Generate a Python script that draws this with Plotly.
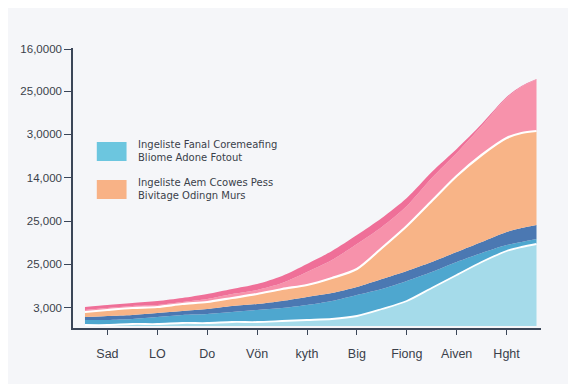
import plotly.graph_objects as go

# Category tick labels (x axis)
categories = ["Sad", "LO", "Do", "Vön", "kyth", "Big", "Fiong", "Aiven", "Hght"]
cat_pos = list(range(len(categories)))

# sample positions along the category axis (fractional category index)
x_pos = [-0.45, 0, 0.5, 1, 1.5, 2, 2.5, 3, 3.5, 4, 4.5, 5, 5.5, 6, 6.5, 7, 7.5, 8, 8.3, 8.6]

# layer values (stacked, bottom to top)
light_cyan = [60, 60, 120, 120, 180, 180, 240, 240, 300, 360, 420, 600, 1020, 1500, 2280, 3060, 3840, 4500, 4740, 4920]
mid_blue = [300, 300, 300, 420, 480, 540, 600, 720, 780, 900, 1080, 1260, 1200, 1200, 960, 780, 540, 360, 300, 300]
dark_blue = [180, 240, 240, 240, 240, 300, 360, 360, 420, 480, 480, 480, 600, 600, 600, 600, 660, 780, 840, 840]
orange = [300, 360, 420, 360, 420, 420, 480, 600, 720, 720, 900, 1080, 1860, 2700, 3660, 4560, 5220, 5640, 5700, 5640]
pink = [120, 120, 120, 120, 120, 180, 240, 240, 360, 780, 1080, 1500, 1260, 1200, 1380, 1380, 1740, 2400, 2780, 3090]
pink_band = [180, 180, 180, 240, 240, 300, 300, 360, 420, 480, 540, 540, 540, 480, 360, 240, 120, 60, 40, 30]

# y tick labels (bottom to top)
y_tickvals = [1100, 3700, 6300, 8900, 11500, 14100, 16600]
y_ticktext = ["3,000", "25,000", "25,000", "14,000", "3,0000", "25,0000", "16,0000"]

legend_labels = ["Ingeliste Fanal Coremeafing<br>Bliome Adone Fotout",
                 "Ingeliste Aem Ccowes Pess<br>Bivitage Odingn Murs"]

layers = [
    ("light_cyan", light_cyan, "#a5dbea", "white", 1.8),
    ("mid_blue", mid_blue, "#4ea7cf", "#4ea7cf", 0),
    ("dark_blue", dark_blue, "#4b78b2", "#4b78b2", 0),
    ("orange", orange, "#f8b487", "white", 2.2),
    ("pink", pink, "#f792ab", "#f792ab", 0),
    ("pink_band", pink_band, "#ef6f98", "#ef6f98", 0),
]

fig = go.Figure()
for name, vals, fill, lc, lw in layers:
    fig.add_trace(go.Scatter(
        x=x_pos, y=vals, name=name, mode="lines",
        stackgroup="one",
        fillcolor=fill,
        line=dict(color=lc, width=lw, shape="spline", smoothing=0.8),
        showlegend=False, hoverinfo="skip",
    ))

axis_color = "#3b4658"
bg = "#f5f6f9"

# custom legend (swatches + text)
W, H = 472.0, 280.0
def px_to_paper(px, py):
    return (px - 61) / W, (320 - py) / H

sw_colors = ["#6cc6df", "#f8b286"]
sw_tops = [134, 172]
shapes = []
annotations = []
for col, top, lab in zip(sw_colors, sw_tops, legend_labels):
    x0, y1 = px_to_paper(85, top)
    x1, y0 = px_to_paper(115, top + 19)
    shapes.append(dict(type="rect", xref="paper", yref="paper", x0=x0, x1=x1, y0=y0, y1=y1,
                       fillcolor=col, line=dict(width=0), layer="above"))
    tx, ty = px_to_paper(125, top + 8.5)
    annotations.append(dict(xref="paper", yref="paper", x=tx, y=ty, xanchor="left", yanchor="middle",
                            text=lab, showarrow=False, align="left",
                            font=dict(family="DejaVu Sans, Arial", size=10, color="#3a3f4a")))

fig.update_layout(
    width=576, height=384,
    margin=dict(l=61, r=43, t=40, b=64),
    paper_bgcolor=bg, plot_bgcolor=bg,
    shapes=shapes, annotations=annotations,
    font=dict(family="Liberation Sans, Arial", color="#3a3f4a"),
)
fig.update_xaxes(
    range=[-0.69, 8.69], tickvals=cat_pos, ticktext=categories,
    showgrid=False, zeroline=False,
    showline=True, linecolor=axis_color, linewidth=1.5,
    ticks="outside", ticklen=5, tickcolor=axis_color, tickwidth=1.2,
    ticklabelstandoff=8,
    tickfont=dict(size=12.5, color="#3a3f4a"),
)
fig.update_yaxes(
    range=[-120, 16680], tickvals=y_tickvals, ticktext=y_ticktext,
    showgrid=False, zeroline=False,
    showline=True, linecolor=axis_color, linewidth=1.5,
    ticks="outside", ticklen=7, tickcolor=axis_color, tickwidth=1.2,
    tickfont=dict(size=11.5, color="#3a3f4a"),
)

fig.write_html("out.html")
